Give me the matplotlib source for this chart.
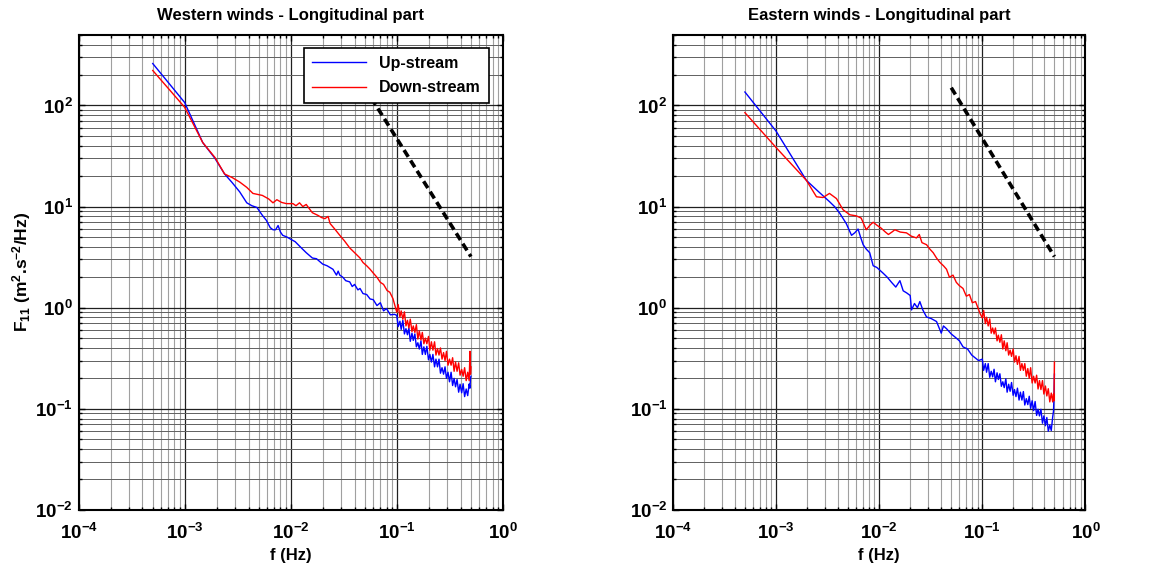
import matplotlib
matplotlib.use('Agg')
import matplotlib.pyplot as plt
from matplotlib.ticker import LogLocator, NullFormatter

plt.rcParams['font.family'] = 'Liberation Sans'
plt.rcParams['font.weight'] = 'bold'
plt.rcParams['mathtext.fontset'] = 'custom'
plt.rcParams['mathtext.rm'] = 'Liberation Sans:bold'
plt.rcParams['mathtext.it'] = 'Liberation Sans:bold'
plt.rcParams['mathtext.bf'] = 'Liberation Sans:bold'
plt.rcParams['mathtext.default'] = 'rm'
plt.rcParams['axes.unicode_minus'] = False

# frequencies of the noisy high-frequency end (shared by all four spectra)
f_high = [0.100, 0.103, 0.107, 0.110, 0.114, 0.118, 0.122, 0.126, 0.130, 0.134,
          0.139, 0.143, 0.148, 0.153, 0.158, 0.163, 0.169, 0.174, 0.180, 0.186,
          0.192, 0.199, 0.205, 0.212, 0.219, 0.227, 0.234, 0.242, 0.250, 0.258,
          0.267, 0.276, 0.285, 0.294, 0.304, 0.314, 0.325, 0.336, 0.347, 0.358,
          0.370, 0.383, 0.395, 0.409, 0.422, 0.436, 0.451, 0.466, 0.481, 0.490,
          0.495, 0.500]

# Western winds - up-stream (blue)
west_up_f = [5e-4, 1e-3, 1.48e-3, 1.93e-3, 2.38e-3, 2.8e-3, 3.3e-3, 3.85e-3, 4.3e-3, 4.8e-3,
             5.4e-3, 5.9e-3, 6.4e-3, 6.8e-3, 7.2e-3, 7.6e-3, 8.0e-3, 8.4e-3, 9.2e-3, 1.02e-2,
             1.1e-2, 1.26e-2, 1.4e-2, 1.6e-2, 1.75e-2, 2.0e-2, 2.2e-2, 2.5e-2, 2.7e-2, 2.8e-2,
             2.9e-2, 3.1e-2, 3.3e-2, 3.6e-2, 3.8e-2, 4.0e-2, 4.3e-2, 4.5e-2, 4.8e-2, 5.2e-2,
             5.6e-2, 0.06, 0.065, 0.07, 0.075, 0.08, 0.087, 0.095] + f_high
west_up_F = [260, 107, 43, 30, 21, 17.3, 14, 10.9, 10.2, 9.8,
             8.2, 7.3, 6.2, 5.9, 5.9, 6.5, 5.6, 5.2, 5.0, 4.7,
             4.5, 3.9, 3.5, 3.1, 3.05, 2.7, 2.6, 2.4, 2.1, 2.3,
             2.1, 2.0, 1.85, 1.8, 1.62, 1.7, 1.5, 1.55, 1.38, 1.35,
             1.22, 1.2, 1.05, 1.12, 0.93, 0.98, 0.85, 0.86,
             0.84, 0.65, 0.735, 0.61, 0.75, 0.55, 0.62, 0.54, 0.63, 0.465,
             0.56, 0.475, 0.55, 0.41, 0.45, 0.39, 0.47, 0.345, 0.41, 0.345,
             0.415, 0.305, 0.345, 0.29, 0.345, 0.26, 0.31, 0.26, 0.31, 0.225,
             0.255, 0.22, 0.26, 0.20, 0.23, 0.185, 0.23, 0.17, 0.20, 0.165,
             0.195, 0.146, 0.175, 0.144, 0.177, 0.132, 0.157, 0.135, 0.176, 0.16,
             0.2, 0.21]

# Western winds - down-stream (red)
west_down_f = [5e-4, 1e-3, 1.48e-3, 1.93e-3, 2.38e-3, 2.8e-3, 3.3e-3, 3.85e-3, 4.4e-3, 5.4e-3,
               6.2e-3, 6.8e-3, 7.4e-3, 8.2e-3, 9.1e-3, 1.05e-2, 1.12e-2, 1.21e-2, 1.3e-2, 1.4e-2,
               1.5e-2, 1.6e-2, 1.8e-2, 1.95e-2, 2.1e-2, 2.25e-2, 2.35e-2, 2.6e-2, 2.9e-2, 3.2e-2,
               3.6e-2, 4.0e-2, 4.5e-2, 4.8e-2, 5.2e-2, 5.6e-2, 6.0e-2, 6.5e-2, 7.0e-2, 7.5e-2,
               8.1e-2, 8.6e-2, 9.2e-2] + f_high
west_down_F = [222, 96, 43, 30.6, 21, 19.4, 17.5, 15.5, 13.5, 12.9,
               11.9, 10.9, 11.7, 11.0, 10.7, 10.7, 10.2, 10.9, 10.0, 10.5,
               9.5, 8.7, 8.2, 7.8, 7.6, 8.0, 6.8, 6.0, 5.2, 4.6,
               3.9, 3.5, 3.1, 2.8, 2.6, 2.4, 2.2, 2.0, 1.78, 1.7,
               1.48, 1.42, 1.23,
               0.90, 1.075, 0.81, 0.93, 0.77, 0.91, 0.66, 0.75, 0.63, 0.77,
               0.58, 0.66, 0.57, 0.68, 0.49, 0.59, 0.48, 0.57, 0.44, 0.50,
               0.44, 0.52, 0.38, 0.46, 0.38, 0.46, 0.34, 0.395, 0.34, 0.40,
               0.31, 0.36, 0.30, 0.37, 0.27, 0.31, 0.27, 0.32, 0.235, 0.29,
               0.235, 0.285, 0.215, 0.245, 0.21, 0.255, 0.19, 0.23, 0.19, 0.37,
               0.22, 0.26]

# Eastern winds - up-stream (blue)
east_up_f = [5e-4, 1e-3, 1.97e-3, 2.5e-3, 3.3e-3, 3.7e-3, 4.15e-3, 4.8e-3, 5.4e-3, 5.8e-3,
             6.25e-3, 6.6e-3, 7.0e-3, 7.5e-3, 8.1e-3, 8.75e-3, 9.5e-3, 1.09e-2, 1.2e-2, 1.32e-2,
             1.45e-2, 1.59e-2, 1.71e-2, 1.85e-2, 2.0e-2, 2.06e-2, 2.2e-2, 2.35e-2, 2.48e-2, 2.65e-2,
             2.88e-2, 3.2e-2, 3.6e-2, 4.0e-2, 4.2e-2, 4.5e-2, 5.0e-2, 5.6e-2, 6.0e-2, 6.5e-2,
             7.2e-2, 7.9e-2, 8.5e-2, 9.2e-2] + f_high
east_up_F = [136, 56, 18.2, 14.5, 11.2, 10.0, 8.6, 6.8, 5.2, 5.5,
             6.0, 5.0, 4.2, 3.8, 3.5, 2.6, 2.5, 2.2, 2.0, 1.78,
             1.6, 1.85, 1.47, 1.4, 1.32, 0.95, 1.1, 1.0, 1.15, 0.95,
             0.81, 0.78, 0.73, 0.56, 0.66, 0.62, 0.55, 0.50, 0.47, 0.41,
             0.39, 0.34, 0.32, 0.30,
             0.31, 0.24, 0.28, 0.23, 0.28, 0.205, 0.235, 0.207, 0.246, 0.185,
             0.227, 0.195, 0.222, 0.167, 0.185, 0.162, 0.198, 0.146, 0.175, 0.149,
             0.182, 0.136, 0.155, 0.132, 0.16, 0.122, 0.146, 0.122, 0.148, 0.109,
             0.126, 0.11, 0.133, 0.101, 0.12, 0.096, 0.118, 0.086, 0.099, 0.085,
             0.099, 0.072, 0.085, 0.068, 0.082, 0.06, 0.069, 0.061, 0.083, 0.095,
             0.13, 0.22]

# Eastern winds - down-stream (red)
east_down_f = [5e-4, 1e-3, 1.97e-3, 2.47e-3, 2.86e-3, 3.3e-3, 3.86e-3, 4.47e-3, 5.2e-3, 6.0e-3,
               6.7e-3, 7.5e-3, 8.2e-3, 8.75e-3, 9.6e-3, 1.05e-2, 1.15e-2, 1.23e-2, 1.33e-2, 1.42e-2,
               1.6e-2, 1.84e-2, 2.05e-2, 2.3e-2, 2.45e-2, 2.6e-2, 2.88e-2, 3.1e-2, 3.34e-2, 3.6e-2,
               3.89e-2, 4.2e-2, 4.5e-2, 4.8e-2, 5.2e-2, 5.6e-2, 6.0e-2, 6.5e-2, 7.0e-2, 7.5e-2,
               8.0e-2, 8.6e-2, 9.5e-2] + f_high
east_down_F = [85, 38.5, 18.2, 12.5, 12.3, 13.5, 12.0, 9.3, 8.3, 8.1,
               7.7, 5.9, 6.6, 7.0, 6.5, 6.1, 5.6, 5.3, 5.6, 5.9,
               5.6, 5.5, 5.1, 4.9, 5.3, 4.4, 4.2, 3.8, 3.5, 3.1,
               2.8, 2.6, 2.4, 2.0, 2.1, 1.78, 1.65, 1.55, 1.3, 1.35,
               1.12, 1.15, 0.88,
               0.79, 0.94, 0.695, 0.805, 0.66, 0.775, 0.56, 0.63, 0.55, 0.63,
               0.47, 0.535, 0.455, 0.54, 0.39, 0.47, 0.375, 0.45, 0.34, 0.38,
               0.33, 0.39, 0.29, 0.335, 0.275, 0.33, 0.24, 0.28, 0.24, 0.28,
               0.21, 0.25, 0.20, 0.255, 0.18, 0.21, 0.18, 0.215, 0.157, 0.19,
               0.155, 0.19, 0.14, 0.168, 0.134, 0.158, 0.117, 0.143, 0.117, 0.14,
               0.12, 0.29]

# -5/3 reference line
ref_f = [0.05, 0.5]
ref_F = [150, 3.2]

titles = ['Western winds - Longitudinal part', 'Eastern winds - Longitudinal part']
panels = [(west_up_f, west_up_F, west_down_f, west_down_F),
          (east_up_f, east_up_F, east_down_f, east_down_F)]

fig = plt.figure(figsize=(11.56, 5.71), dpi=100)
ax1 = fig.add_axes([0.068, 0.107, 0.367, 0.832])
ax2 = fig.add_axes([0.582, 0.107, 0.357, 0.832])

for ax, title, (uf, uF, df, dF) in zip([ax1, ax2], titles, panels):
    ax.loglog(uf, uF, color='#0000ff', lw=1.0, label='Up-stream')
    ax.loglog(df, dF, color='#ff0000', lw=1.0, label='Down-stream')
    ax.loglog(ref_f, ref_F, color='black', lw=2.6, ls=(0, (2.2, 1.2)))
    ax.set_xlim(1e-4, 1)
    ax.set_ylim(1e-2, 500)
    ax.xaxis.set_major_locator(LogLocator(base=10, numticks=10))
    ax.xaxis.set_minor_locator(LogLocator(base=10, subs=range(2, 10), numticks=20))
    ax.yaxis.set_major_locator(LogLocator(base=10, numticks=10))
    ax.yaxis.set_minor_locator(LogLocator(base=10, subs=range(2, 10), numticks=20))
    ax.xaxis.set_minor_formatter(NullFormatter())
    ax.yaxis.set_minor_formatter(NullFormatter())
    ax.xaxis.grid(True, which='major', color='#202020', lw=0.9)
    ax.xaxis.grid(True, which='minor', color='#a0a0a0', lw=0.8)
    ax.yaxis.grid(True, which='major', color='#202020', lw=0.9)
    ax.yaxis.grid(True, which='minor', color='#606060', lw=0.7)
    ax.set_axisbelow(True)
    ax.tick_params(which='both', direction='in', top=True, right=True, labelsize=13.5, width=1.0)
    ax.tick_params(which='major', length=4)
    ax.tick_params(which='minor', length=2.5)
    ax.tick_params(axis='x', pad=9)
    ax.tick_params(axis='y', pad=4)
    for s in ax.spines.values():
        s.set_linewidth(1.5)
    ax.set_title(title, fontsize=12, fontweight='bold', pad=11)
    ax.set_xlabel('f (Hz)', fontsize=12, fontweight='bold', labelpad=4)

ax1.set_ylabel('F$_{11}$ (m$^2$.s$^{-2}$/Hz)', fontsize=12.5, fontweight='bold', labelpad=2)
leg = ax1.legend(loc='upper right', bbox_to_anchor=(0.985, 0.99), fancybox=False,
                 framealpha=1, edgecolor='black', fontsize=11.5, handlelength=3.4,
                 borderpad=0.5, labelspacing=0.6)
leg.get_frame().set_linewidth(1.2)

plt.savefig('out.png', dpi=100)
